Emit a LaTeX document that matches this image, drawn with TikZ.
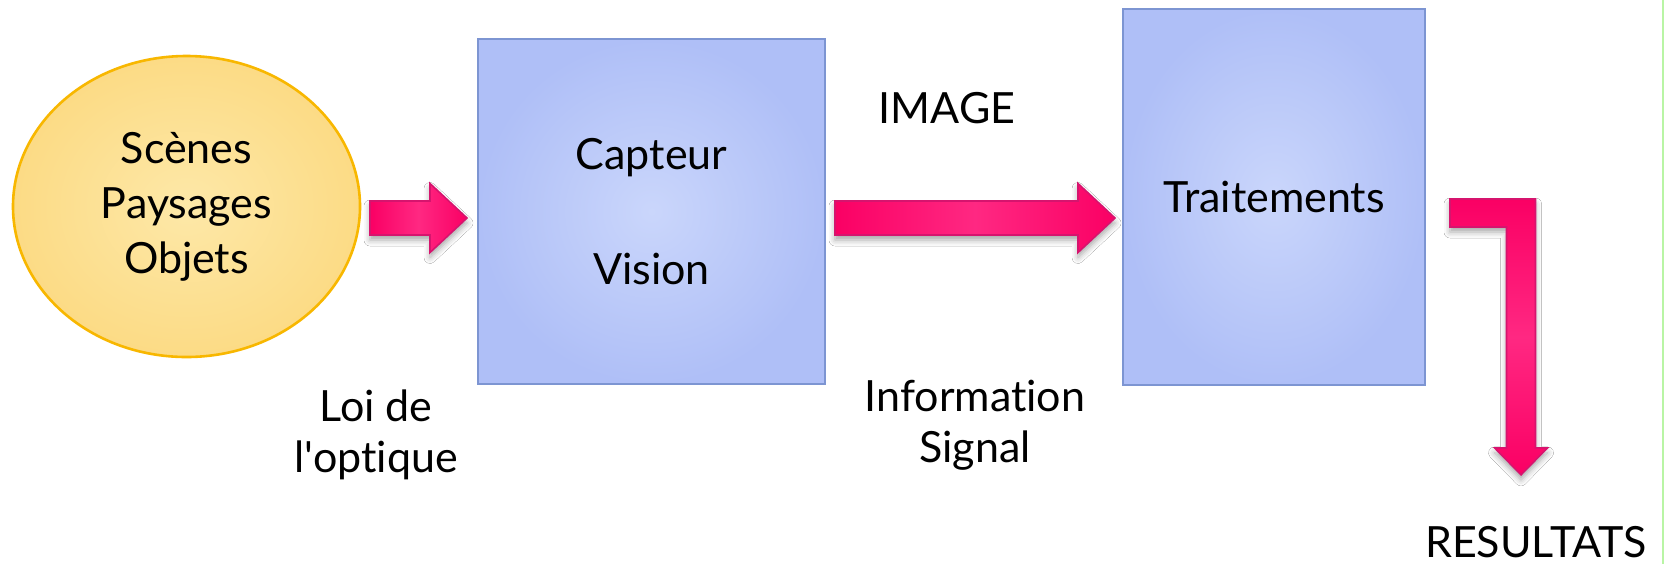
\documentclass[tikz,border=0pt]{standalone}
\usepackage{fontspec}
\setmainfont{Lato}[Ligatures={TeX,NoCommon}]
\usetikzlibrary{shapes.geometric,calc,shadows.blur}

\definecolor{boxin}{HTML}{CAD6FB}
\definecolor{boxout}{HTML}{AFBFF7}
\definecolor{boxline}{HTML}{7D95D2}
\definecolor{ellin}{HTML}{FDE8A8}
\definecolor{ellout}{HTML}{FCDB85}
\definecolor{ellline}{HTML}{F8B700}
\definecolor{pinkA}{RGB}{250,0,100}
\definecolor{pinkB}{RGB}{255,40,130}
\definecolor{pinkline}{RGB}{214,20,110}
\definecolor{edgegreen}{HTML}{B9F5A5}

% straight block arrow from #1 to the tip #2
\newcommand\flowarrow[2]{%
  \path[pinkarrow, left color=pinkA, right color=pinkA, middle color=pinkB]
    let \p1=(#1), \p2=(#2) in
    (\x1,\y1+8.5pt) -- (\x2-18.5pt,\y1+8.5pt) -- (\x2-18.5pt,\y1+17.25pt) -- (\x2,\y2)
    -- (\x2-18.5pt,\y1-17.25pt) -- (\x2-18.5pt,\y1-8.5pt) -- (\x1,\y1-8.5pt) -- cycle;}

% block arrow going right from #1, then down to the tip #2
\newcommand\elbowarrow[2]{%
  \path[pinkarrow, top color=pinkA, bottom color=pinkA, middle color=pinkB]
    let \p1=(#1), \p2=(#2) in
    (\x1,\y1+7pt) -- (\x2+7.25pt,\y1+7pt) -- (\x2+7.25pt,\y2+13.5pt) -- (\x2+13.25pt,\y2+13.5pt)
    -- (\x2,\y2) -- (\x2-13.25pt,\y2+13.5pt) -- (\x2-7.25pt,\y2+13.5pt) -- (\x2-7.25pt,\y1-7pt)
    -- (\x1,\y1-7pt) -- cycle;}

\begin{document}
\begin{tikzpicture}[x=0.5pt, y=-0.5pt,
  font=\fontsize{21.5}{28.5}\selectfont,
  block/.style={draw=boxline, line width=1pt, inner color=boxin, outer color=boxout,
    align=center, inner sep=0pt, outer sep=0pt},
  source/.style={ellipse, draw=ellline, line width=1.3pt, inner color=ellin, outer color=ellout,
    align=center, inner sep=0pt, outer sep=0pt, font=\fontsize{21.5}{27.5}\selectfont},
  caption/.style={anchor=base, align=center, inner sep=0pt, outer sep=0pt,
    font=\fontsize{21.5}{25.5}\selectfont},
  pinkarrow/.style={draw=pinkline, line width=0.8pt, line join=miter,
    blur shadow={shadow xshift=0pt, shadow yshift=-2.5pt, shadow blur radius=3pt, shadow opacity=35}},
]
  \fill[white] (0,0) rectangle (1674,564);
  \useasboundingbox (0,0) rectangle (1674,564);
  \draw[edgegreen, line width=0.6pt] (1663,0) -- (1663,564);

  % source, sensor and processing
  \node[source, minimum width=173.5pt, minimum height=150.5pt] (scenes) at (186.5,206.5)
    {Scènes\\Paysages\\Objets};
  \node[block, minimum width=173.5pt, minimum height=172.5pt] (capteur) at (651.5,211.5)
    {Capteur\\[29pt]Vision};
  \node[block, minimum width=151pt, minimum height=188pt] (trait) at (1274,197) {Traitements};

  % captions (anchored on the baseline of their last line)
  \node[caption] (loi) at (376,472) {Loi de\\l\textquotesingle optique};
  \node[caption] (image) at (947,123) {IMAGE};
  \node[caption] (info) at (975,462) {Information\\Signal};
  \node[caption] (res) at (1536,557) {RESULTATS};

  % arrow end points
  \coordinate (a1s) at ($(scenes.east)+(10,11.5)$);
  \coordinate (a1e) at ($(capteur.west)+(-11,6.5)$);
  \coordinate (a2s) at ($(capteur.east)+(10,6.5)$);
  \coordinate (a2e) at ($(trait.west)+(-8,21)$);
  \coordinate (a3s) at ($(trait.east)+(25,16)$);
  \coordinate (a3e) at ($(res.north)+(-15,-51)$);

  \flowarrow{a1s}{a1e}
  \flowarrow{a2s}{a2e}
  \elbowarrow{a3s}{a3e}
\end{tikzpicture}
\end{document}
